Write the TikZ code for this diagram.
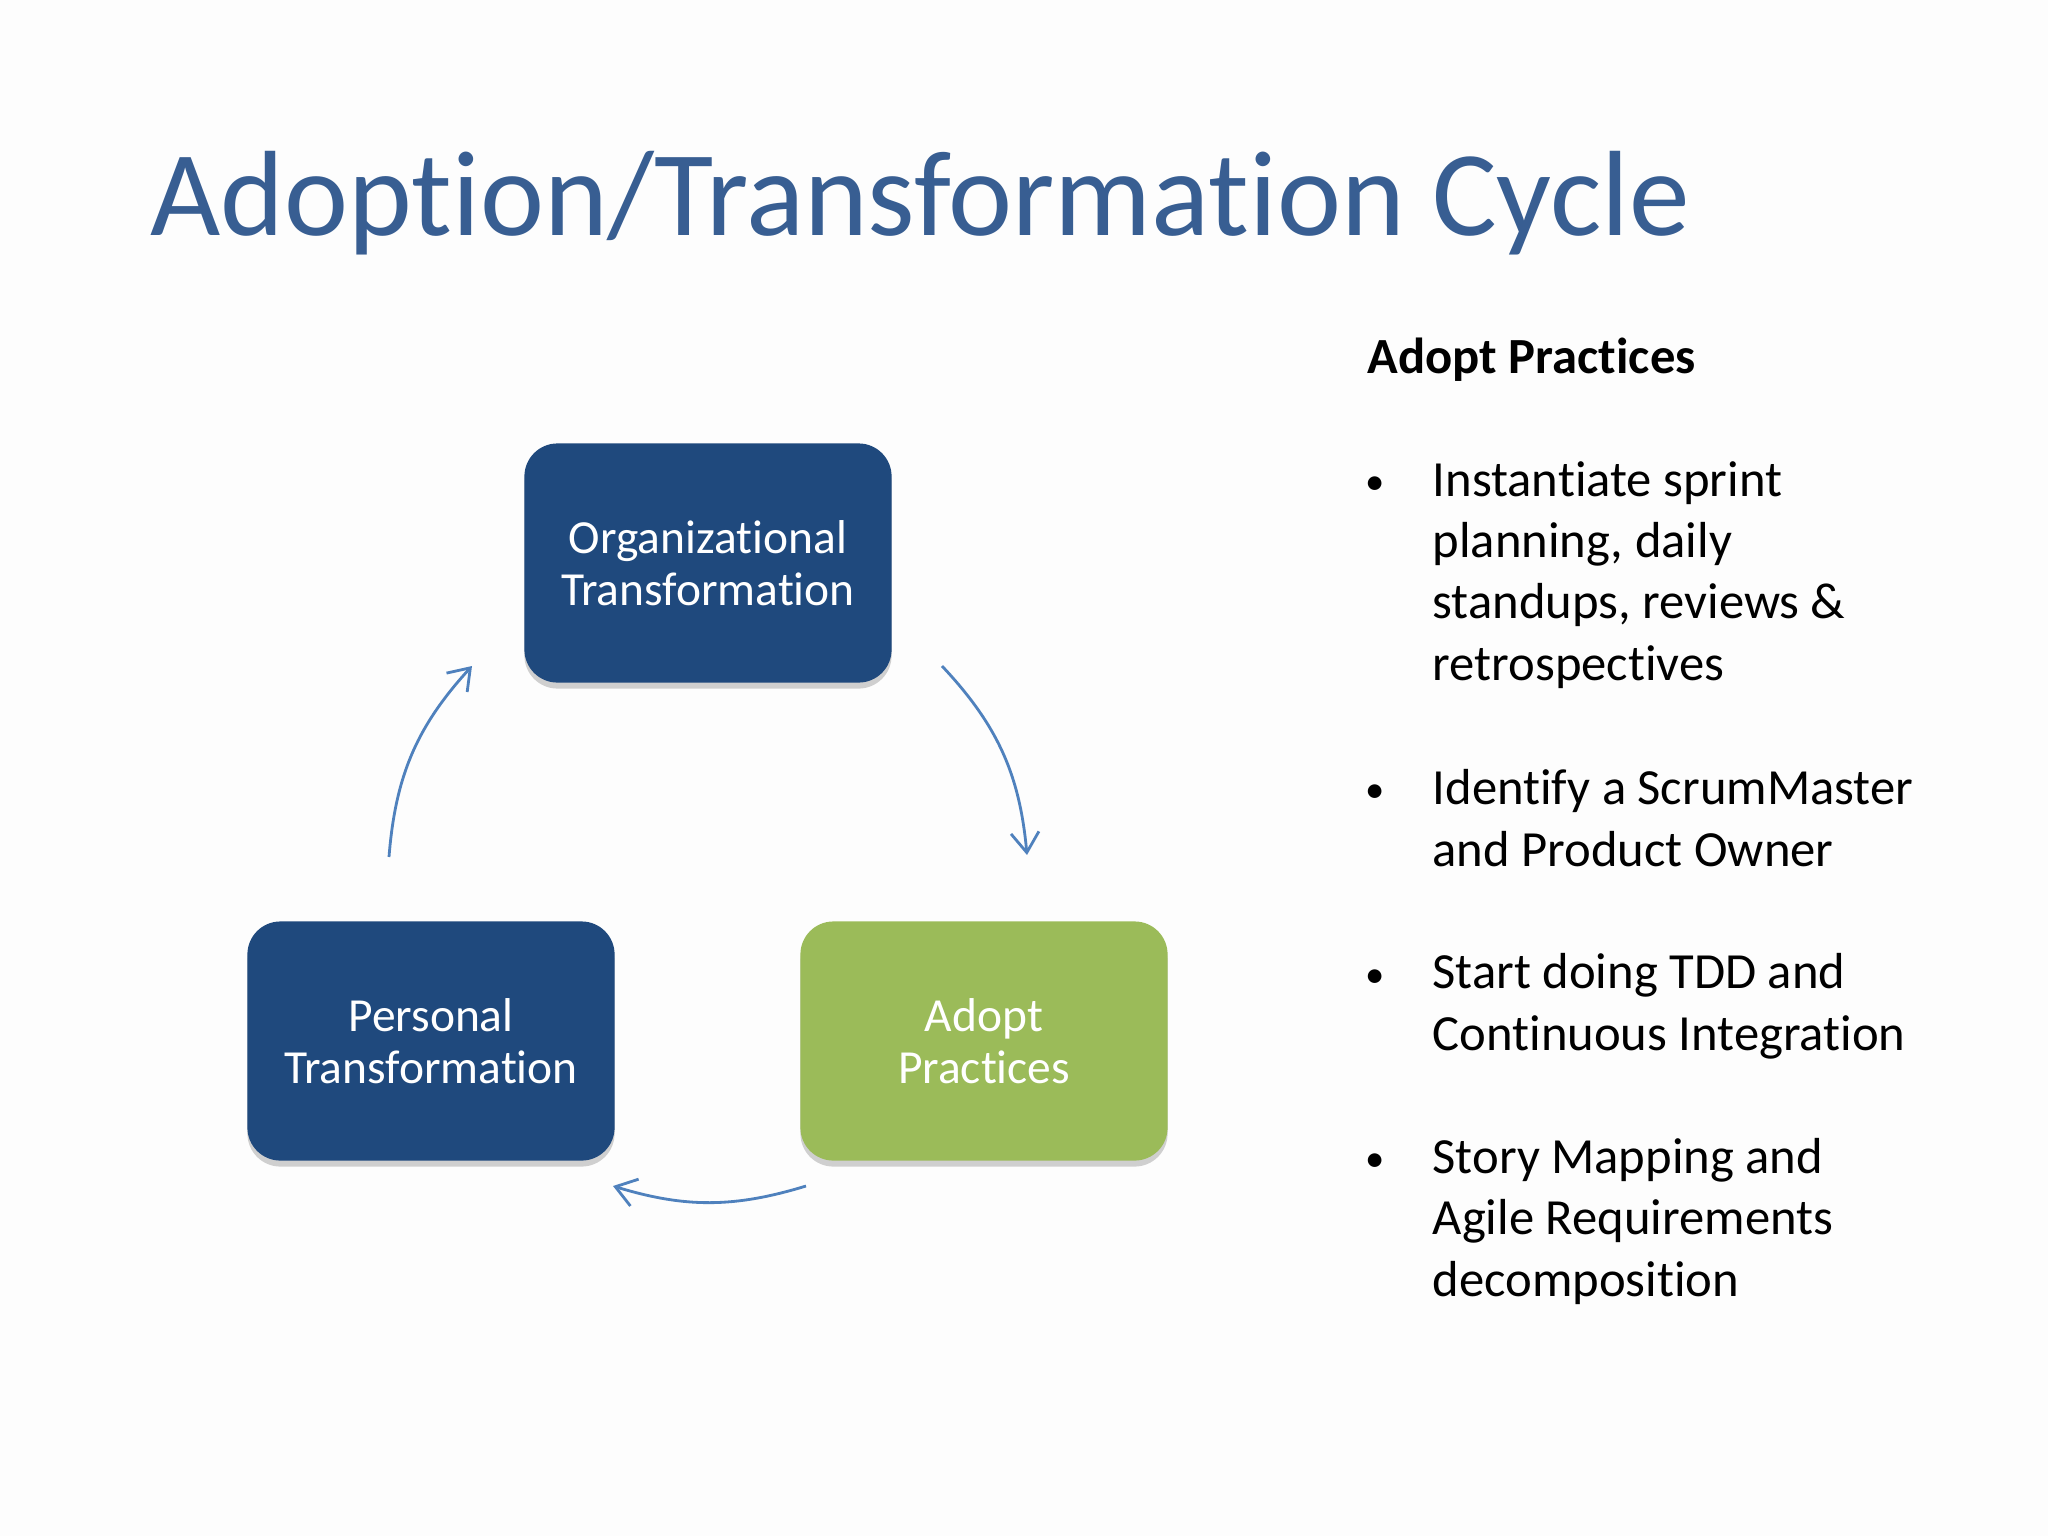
\documentclass[tikz,border=0pt]{standalone}
\usepackage{fontspec}
\setmainfont[RawFeature={-liga;-clig;-calt;-dlig}]{Carlito}
\usetikzlibrary{positioning}
\usetikzlibrary{arrows.meta}
\usetikzlibrary{shadows}
\definecolor{figAzul}{RGB}{31,73,125}
\definecolor{figVerde}{RGB}{155,187,89}
\definecolor{figTitulo}{RGB}{56,94,146}
\definecolor{figFlecha}{RGB}{79,129,189}
\definecolor{figFondo}{RGB}{253,253,253}
\tikzset{
  bloque/.style={
    rectangle, rounded corners=0.33cm, fill=figAzul, text=white,
    minimum width=3.67cm, minimum height=2.39cm, inner sep=0pt,
    align=center, font=\fontsize{13.5pt}{14.8pt}\selectfont,
    drop shadow={shadow xshift=0pt, shadow yshift=-0.06cm, opacity=0.18, fill=black}
  },
  bloquev/.style={bloque, fill=figVerde},
  flecha/.style={-{Straight Barb[length=0.2cm, width=0.28cm]}, line width=0.8pt, draw=figFlecha},
  titulo/.style={anchor=base west, inner sep=0pt, text=figTitulo, font=\fontsize{34.5pt}{40pt}\selectfont},
  cabecera/.style={anchor=base west, inner sep=0pt, font=\fontsize{14.4pt}{17.4pt}\selectfont\bfseries},
  punto/.style={anchor=base, inner sep=0pt, font=\fontsize{11pt}{17.4pt}\selectfont},
  texto/.style={anchor=base west, inner sep=0pt, align=left, font=\fontsize{14.4pt}{17.4pt}\selectfont}
}
\begin{document}
\begin{tikzpicture}[x=0.01cm, y=-0.01cm]
  \fill[figFondo] (0,0) rectangle (2048,1536);
  \useasboundingbox (0,0) rectangle (2048,1536);

  \node[titulo] (titulo) at (150,235) {Adoption/Transformation Cycle};

  % ciclo
  \node[bloque] (orgtrans) at (708,563) {Organizational\\Transformation};
  \node[bloque] (personal) at (431,1041) {Personal\\Transformation};
  \node[bloquev] (adopt) at (984,1041) {Adopt\\Practices};

  \coordinate (a1s) at (389,857);
  \coordinate (a1e) at (472,666);
  \coordinate (a2s) at (942,666);
  \coordinate (a2e) at (1027,855);
  \coordinate (a3s) at (806,1186);
  \coordinate (a3e) at (613,1186);
  \draw[flecha] (a1s) to[bend left=19] (a1e);
  \draw[flecha] (a2s) to[bend left=19] (a2e);
  \draw[flecha] (a3s) to[bend left=17] (a3e);

  % lista (la base del nodo es la ultima linea)
  \node[cabecera] (cab) at (1367,373) {Adopt Practices};
  \node[punto] (b1) at (1375,494) {\textbullet};
  \node[texto] (item1) at (1432,680) {Instantiate sprint\\planning, daily\\standups, reviews \&\\retrospectives};
  \node[punto] (b2) at (1375,802) {\textbullet};
  \node[texto] (item2) at (1432,866) {Identify a ScrumMaster\\and Product Owner};
  \node[punto] (b3) at (1375,987) {\textbullet};
  \node[texto] (item3) at (1432,1050) {Start doing TDD and\\Continuous Integration};
  \node[punto] (b4) at (1375,1171) {\textbullet};
  \node[texto] (item4) at (1432,1296) {Story Mapping and\\Agile Requirements\\decomposition};
\end{tikzpicture}
\end{document}
